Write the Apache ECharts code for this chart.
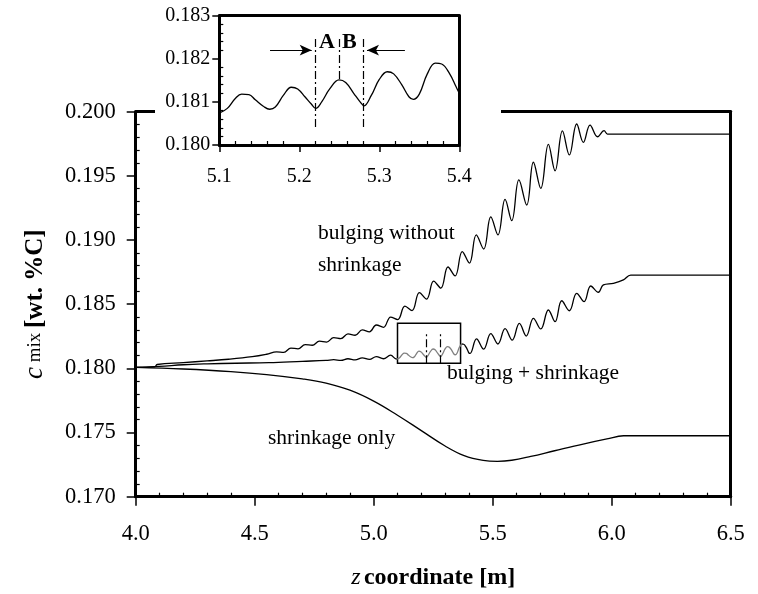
<!DOCTYPE html>
<html><head><meta charset="utf-8">
<script src="https://cdn.jsdelivr.net/npm/echarts@6/dist/echarts.min.js"></script>
<style>html,body{margin:0;padding:0;background:#fff}#c{width:758px;height:594px}</style>
</head><body><div id="c"></div>
<script>
// ---------------- data (z coordinate [m], c_mix [wt.%C]) ----------------
const upperCurve = [
 [4.00,0.18008],[4.08,0.18012],[4.09,0.18030],[4.20,0.18045],[4.30,0.18058],[4.39,0.18071],[4.49,0.18091],[4.55,0.18110],
 [4.592,0.18128],[4.622,0.18125],[4.652,0.18158],[4.682,0.18152],[4.712,0.18185],[4.742,0.18180],[4.772,0.18212],[4.802,0.18205],
 [4.832,0.18240],[4.862,0.18232],[4.892,0.18268],[4.922,0.18258],[4.952,0.18300],[4.982,0.18285],[5.011,0.18338],[5.041,0.18320],
 [5.071,0.18400],[5.101,0.18380],[5.131,0.18485],[5.161,0.18450],[5.192,0.18590],[5.222,0.18540],[5.252,0.18680],[5.282,0.18625],
 [5.312,0.18790],[5.342,0.18720],[5.372,0.18910],[5.402,0.18820],[5.431,0.19040],[5.462,0.18930],[5.492,0.19180],[5.522,0.19040],
 [5.552,0.19317],[5.580,0.19151],[5.610,0.19468],[5.643,0.19273],[5.671,0.19606],[5.702,0.19403],[5.734,0.19746],[5.762,0.19540],
 [5.793,0.19850],[5.822,0.19663],[5.853,0.19904],[5.881,0.19761],[5.909,0.19896],[5.941,0.19805],[5.968,0.19852],[5.982,0.19826],
 [6.00,0.19826],[6.50,0.19826]
];
const middleStart = [
 [4.00,0.18008],[4.10,0.18015],[4.20,0.18028],[4.30,0.18035],[4.42,0.18040],[4.56,0.18045],[4.70,0.18055],[4.80,0.18062],
 [4.832,0.18068],[4.862,0.18062],[4.892,0.18075],[4.922,0.18066],[4.952,0.18082],[4.982,0.18070],[5.011,0.18092],[5.041,0.18075],
 [5.071,0.18103],[5.095,0.18073]
];
const insetCurve = [
 [5.100,0.18074],[5.110,0.18085],[5.120,0.18108],[5.128,0.18118],[5.137,0.18117],[5.145,0.18105],[5.155,0.18090],[5.163,0.18083],
 [5.170,0.18088],[5.180,0.18115],[5.190,0.18134],[5.198,0.18130],[5.207,0.18112],[5.215,0.18095],[5.2205,0.18085],[5.228,0.18100],
 [5.238,0.18130],[5.2496,0.18151],[5.258,0.18145],[5.268,0.18120],[5.276,0.18100],[5.281,0.18091],[5.290,0.18115],[5.300,0.18152],
 [5.310,0.18170],[5.318,0.18165],[5.328,0.18140],[5.337,0.18112],[5.3426,0.18106],[5.350,0.18118],[5.360,0.18165],[5.370,0.18190],
 [5.378,0.18188],[5.388,0.18165],[5.396,0.18135],[5.400,0.18120]
];
const middleEnd = [
 [5.405,0.18117],[5.432,0.18230],[5.462,0.18150],[5.492,0.18270],[5.522,0.18190],[5.552,0.18310],[5.582,0.18220],[5.612,0.18350],
 [5.641,0.18252],[5.671,0.18390],[5.702,0.18307],[5.734,0.18455],[5.762,0.18364],[5.790,0.18527],[5.822,0.18449],[5.853,0.18585],
 [5.884,0.18520],[5.912,0.18642],[5.944,0.18593],[5.965,0.18650],[6.007,0.18663],[6.049,0.18689],[6.080,0.18727],[6.50,0.18727]
];
const lowerCurve = [
 [4.00,0.18008],[4.20,0.17995],[4.40,0.17975],[4.55,0.17952],[4.70,0.17918],[4.80,0.17885],[4.90,0.17830],[5.00,0.17745],
 [5.10,0.17635],[5.20,0.17515],[5.30,0.17395],[5.38,0.17320],[5.46,0.17283],[5.52,0.17276],[5.58,0.17284],[5.66,0.17314],
 [5.76,0.17358],[5.88,0.17410],[5.98,0.17450],[6.05,0.17475],[6.50,0.17475]
];
// zoom window marked in the main chart and cut lines A/B
const zoomBox = [[5.10,0.18040],[5.365,0.18351]];
const mainCuts = [5.22,5.28];
const mainCutRange = [0.18040,0.18286];
const insetCuts = [5.22,5.25,5.28];
const insetCutTop = 0.18246;
const insetCutBottom = [0.18042,0.18151,0.18042];
const arrowLevel = 0.18220;
const arrowLeft = [5.1634,5.2155];
const arrowRight = [5.332,5.2846];
const greyEnd = 5.37;

// ---------------- chart ----------------
const FONT = '"Liberation Serif","Times New Roman",serif';
const middleCurve = middleStart.concat(insetCurve, middleEnd);
const midA = middleCurve.filter(p => p[0] <= 5.1);
const midGrey = middleCurve.filter(p => p[0] >= 5.095 && p[0] <= greyEnd);
const midB = middleCurve.filter(p => p[0] >= greyEnd);

const dashDot = [8,3,2,3];

function mainLine(data, color) {
  return {type:'line', xAxisIndex:0, yAxisIndex:0, data, smooth:0.4, showSymbol:false, symbol:'none',
    lineStyle:{color, width:1.3}, z:2, animation:false};
}

const option = {
  animation:false,
  backgroundColor:'#fff',
  grid:[
    {left:135.7, right:27.3, top:111.7, bottom:97.3, outerBoundsMode:'none', containLabel:false},
    {left:219.3, top:15.7, width:240, height:129.3, outerBoundsMode:'none', containLabel:false}
  ],
  xAxis:[
    {gridIndex:0, type:'value', min:4, max:6.5, interval:0.5, position:'bottom',
     axisLine:{onZero:false, lineStyle:{color:'#000', width:3}},
     axisTick:{show:true, inside:false, length:9, lineStyle:{color:'#000', width:1.5}},
     minorTick:{show:true, splitNumber:5, length:-4, lineStyle:{color:'#000', width:1.2}},
     splitLine:{show:false},
     axisLabel:{formatter:v=>v.toFixed(1), fontSize:22.5, fontFamily:FONT, color:'#000', margin:26},
     name:'{i|z} {b|coordinate [m]}', nameLocation:'middle', nameGap:69, nameMoveOverlap:false,
     nameTextStyle:{rich:{i:{fontFamily:FONT, fontStyle:'italic', fontSize:24, color:'#000'},
                          b:{fontFamily:FONT, fontWeight:'bold', fontSize:24, color:'#000'}}}},
    {gridIndex:0, type:'value', min:4, max:6.5, position:'top',
     axisLine:{onZero:false, lineStyle:{color:'#000', width:3}}, axisTick:{show:false}, axisLabel:{show:false}, splitLine:{show:false}},
    {gridIndex:1, type:'value', min:5.1, max:5.4, interval:0.1, position:'bottom', z:3,
     axisLine:{onZero:false, lineStyle:{color:'#000', width:3}},
     axisTick:{show:true, inside:false, length:7, lineStyle:{color:'#000', width:1.5}},
     minorTick:{show:true, splitNumber:5, length:-4, lineStyle:{color:'#000', width:1.2}},
     splitLine:{show:false},
     axisLabel:{formatter:v=>v.toFixed(1), fontSize:20, fontFamily:FONT, color:'#000', margin:22}},
    {gridIndex:1, type:'value', min:5.1, max:5.4, position:'top', z:3,
     axisLine:{onZero:false, lineStyle:{color:'#000', width:3}}, axisTick:{show:false}, axisLabel:{show:false}, splitLine:{show:false}}
  ],
  yAxis:[
    {gridIndex:0, type:'value', min:0.17, max:0.2, interval:0.005, position:'left',
     axisLine:{onZero:false, lineStyle:{color:'#000', width:3}},
     axisTick:{show:true, inside:false, length:9, lineStyle:{color:'#000', width:1.5}},
     minorTick:{show:true, splitNumber:5, length:-4, lineStyle:{color:'#000', width:1.2}},
     splitLine:{show:false},
     axisLabel:{formatter:v=>v.toFixed(3), fontSize:22.5, fontFamily:FONT, color:'#000', margin:20},
     name:'{i|c}{s| mix }{b|[wt. %C]}', nameLocation:'middle', nameRotate:90, nameGap:87, nameMoveOverlap:false,
     nameTextStyle:{rich:{i:{fontFamily:FONT, fontStyle:'italic', fontSize:27, color:'#000'},
                          s:{fontFamily:FONT, fontSize:19, color:'#000'},
                          b:{fontFamily:FONT, fontWeight:'bold', fontSize:25, color:'#000'}}}},
    {gridIndex:0, type:'value', min:0.17, max:0.2, position:'right',
     axisLine:{onZero:false, lineStyle:{color:'#000', width:3}}, axisTick:{show:false}, axisLabel:{show:false}, splitLine:{show:false}},
    {gridIndex:1, type:'value', min:0.18, max:0.183, interval:0.001, position:'left', z:3,
     axisLine:{onZero:false, lineStyle:{color:'#000', width:3}},
     axisTick:{show:true, inside:false, length:7, lineStyle:{color:'#000', width:1.5}},
     minorTick:{show:true, splitNumber:5, length:-4, lineStyle:{color:'#000', width:1.2}},
     splitLine:{show:false},
     axisLabel:{formatter:v=>v.toFixed(3), fontSize:20, fontFamily:FONT, color:'#000', margin:9}},
    {gridIndex:1, type:'value', min:0.18, max:0.183, position:'right', z:3,
     axisLine:{onZero:false, lineStyle:{color:'#000', width:3}}, axisTick:{show:false}, axisLabel:{show:false}, splitLine:{show:false}}
  ],
  series:[
    mainLine(upperCurve, '#000'),
    mainLine(midA, '#000'),
    Object.assign(mainLine(midGrey, '#808080'), {
      markArea:{silent:true, itemStyle:{color:'rgba(0,0,0,0)', borderColor:'#000', borderWidth:1.5},
        data:[[{coord:zoomBox[0]},{coord:zoomBox[1]}]]},
      markLine:{silent:true, symbol:'none', label:{show:false}, animation:false,
        lineStyle:{color:'#000', width:1.2, type:dashDot},
        data: mainCuts.map(x => [{coord:[x, mainCutRange[0]]},{coord:[x, mainCutRange[1]]}])}
    }),
    mainLine(midB, '#000'),
    mainLine(lowerCurve, '#000'),
    {type:'line', xAxisIndex:2, yAxisIndex:2, data:insetCurve, smooth:0.4, showSymbol:false, symbol:'none',
     lineStyle:{color:'#000', width:1.3}, z:4, animation:false,
     markLine:{silent:true, label:{show:false}, animation:false, symbol:'none',
       lineStyle:{color:'#000', width:1.2, type:dashDot},
       data: insetCuts.map((x,i) => [{coord:[x, insetCutTop], symbol:'none'},{coord:[x, insetCutBottom[i]], symbol:'none'}]).concat([
         [{coord:[arrowLeft[0], arrowLevel], symbol:'none', lineStyle:{type:'solid', width:1.2, color:'#000'}},
          {coord:[arrowLeft[1], arrowLevel], symbol:'arrow', symbolSize:[8,12]}],
         [{coord:[arrowRight[0], arrowLevel], symbol:'none', lineStyle:{type:'solid', width:1.2, color:'#000'}},
          {coord:[arrowRight[1], arrowLevel], symbol:'arrow', symbolSize:[8,12]}]
       ])}}
  ],
  graphic:[
    {type:'rect', z:1, shape:{x:155, y:0, width:346, height:190}, style:{fill:'#fff'}, silent:true},
    {type:'text', z:10, left:318, top:222, style:{text:'bulging without', font:'21.5px ' + FONT, fill:'#000'}},
    {type:'text', z:10, left:318, top:254, style:{text:'shrinkage', font:'21.5px ' + FONT, fill:'#000'}},
    {type:'text', z:10, left:447, top:362, style:{text:'bulging + shrinkage', font:'21.5px ' + FONT, fill:'#000'}},
    {type:'text', z:10, left:268, top:427, style:{text:'shrinkage only', font:'21.5px ' + FONT, fill:'#000'}},
    {type:'text', z:10, left:319, top:31, style:{text:'A', font:'bold 22px ' + FONT, fill:'#000'}},
    {type:'text', z:10, left:342, top:31, style:{text:'B', font:'bold 22px ' + FONT, fill:'#000'}}
  ]
};
const chart = echarts.init(document.getElementById('c'), null, {renderer:'canvas'});
chart.setOption(option);
</script>
</body></html>
